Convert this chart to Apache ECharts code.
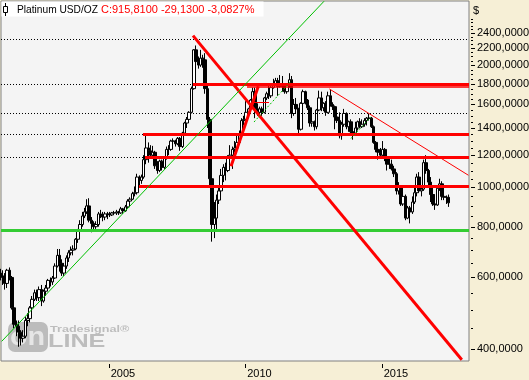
<!DOCTYPE html>
<html><head><meta charset="utf-8">
<script src="https://cdn.jsdelivr.net/npm/echarts@6/dist/echarts.min.js"></script>
<style>html,body{margin:0;padding:0;background:#f6efd6;}#c{width:529px;height:380px;}</style>
</head><body><div id="c"></div>
<script>
// ---- data (monthly OHLC, Jan 2001 .. Jun 2017) ----
const firstYear = 2001;
const opens = [
 615,605,600,580,625,600,505,460,455,440,425,430,
 470,475,505,530,550,535,560,525,555,565,590,585,
 598,640,680,650,615,640,670,690,700,705,745,785,
 810,850,870,900,830,815,800,810,860,855,845,860,
 860,855,865,865,870,865,885,875,895,925,935,965,
 970,1060,1040,1060,1170,1250,1230,1200,1220,1130,1100,1160,
 1120,1180,1240,1240,1300,1300,1280,1320,1260,1360,1440,1470,
 1530,1750,2180,2040,2000,2080,2060,1750,1470,1050,810,840,
 930,980,1070,1120,1100,1190,1200,1240,1250,1290,1340,1460,
 1470,1530,1560,1640,1720,1560,1530,1560,1530,1660,1700,1680,
 1760,1800,1830,1770,1800,1780,1720,1790,1840,1520,1600,1560,
 1390,1610,1720,1640,1570,1440,1450,1410,1550,1660,1570,1610,
 1530,1680,1600,1580,1490,1460,1340,1430,1520,1410,1450,1370,
 1360,1400,1450,1410,1430,1460,1480,1480,1410,1290,1240,1220,
 1200,1240,1190,1140,1140,1110,1080,980,1000,910,950,840,
 890,870,920,970,1060,980,990,1150,1100,1030,960,910,
 905,995,1020,950,945,945];
const highs = [
 630,625,615,630,635,605,520,470,470,445,445,480,
 490,510,540,560,560,570,575,560,575,595,600,605,
 650,705,705,665,650,680,700,715,720,750,790,830,
 870,890,935,940,845,825,825,870,880,870,870,870,
 870,870,875,880,875,895,890,905,935,945,975,1005,
 1080,1070,1075,1200,1340,1290,1270,1265,1230,1160,1170,1170,
 1190,1260,1270,1310,1320,1310,1330,1330,1370,1450,1490,1540,
 1770,2190,2235,2100,2180,2120,2140,1800,1490,1080,920,960,
 1000,1110,1140,1150,1200,1270,1260,1300,1340,1380,1480,1500,
 1630,1570,1650,1760,1760,1610,1580,1580,1670,1720,1800,1790,
 1850,1860,1860,1890,1880,1800,1800,1910,1880,1650,1660,1570,
 1620,1740,1730,1650,1590,1510,1460,1560,1730,1720,1620,1630,
 1720,1740,1620,1590,1540,1530,1450,1560,1530,1460,1470,1390,
 1450,1460,1480,1470,1480,1490,1520,1490,1420,1300,1250,1250,
 1300,1250,1200,1180,1170,1130,1090,1030,1010,1010,960,900,
 900,950,1010,1080,1090,1000,1170,1200,1110,1060,1010,960,
 1010,1050,1035,1000,955,960];
const lows = [
 590,575,560,565,590,500,450,430,405,408,415,425,
 455,465,495,525,525,525,510,520,540,560,570,575,
 595,635,620,605,605,630,655,680,680,700,730,775,
 800,840,860,820,775,785,790,800,840,825,830,835,
 845,850,855,855,855,860,860,870,890,910,930,950,
 960,1010,1020,1050,1140,1150,1180,1190,1110,1080,1090,1100,
 1110,1170,1200,1230,1280,1260,1270,1230,1250,1350,1400,1440,
 1520,1740,1900,1960,1980,1970,1700,1400,1000,735,750,780,
 910,970,1030,1040,1090,1150,1110,1220,1240,1280,1330,1420,
 1450,1480,1540,1630,1480,1500,1510,1500,1520,1640,1650,1660,
 1750,1780,1680,1760,1720,1700,1700,1760,1480,1500,1540,1360,
 1380,1600,1600,1550,1410,1410,1380,1390,1540,1540,1540,1500,
 1520,1580,1550,1390,1440,1320,1310,1410,1390,1370,1350,1310,
 1350,1380,1400,1400,1410,1420,1460,1400,1280,1220,1170,1180,
 1190,1160,1100,1110,1100,1060,960,960,900,900,830,835,
 815,860,910,950,970,950,980,1080,1010,920,900,880,
 900,980,930,930,910,895];
const closes = [
 605,600,580,625,600,505,460,455,440,425,430,470,
 475,505,530,550,535,560,525,555,565,590,585,598,
 640,680,650,615,640,670,690,700,705,745,785,810,
 850,870,900,830,815,800,810,860,855,845,860,860,
 855,865,865,870,865,885,875,895,925,935,965,970,
 1060,1040,1060,1170,1250,1230,1200,1220,1130,1100,1160,1120,
 1180,1240,1240,1300,1300,1280,1320,1260,1360,1440,1470,1530,
 1750,2180,2040,2000,2080,2060,1750,1470,1050,810,840,930,
 980,1070,1120,1100,1190,1200,1240,1250,1290,1340,1460,1470,
 1530,1560,1640,1720,1560,1530,1560,1530,1660,1700,1680,1760,
 1800,1830,1770,1800,1780,1720,1790,1840,1520,1600,1560,1390,
 1610,1720,1640,1570,1440,1450,1410,1550,1660,1570,1610,1530,
 1680,1600,1580,1490,1460,1340,1430,1520,1410,1450,1370,1360,
 1400,1450,1410,1430,1460,1480,1480,1410,1290,1240,1220,1200,
 1240,1190,1140,1140,1110,1080,980,1000,910,950,840,890,
 870,920,970,1060,980,990,1150,1100,1030,960,910,905,
 995,1020,950,945,944.94,915.81];

const yTickLabels = [400,600,800,1000,1200,1400,1600,1800,2000,2200,2400];
const yMinorTicks = [450,500,550,650,700,750,850,900,950,1050,1100,1150,1250,1300,1350,1450,1500,1550,1650,1700,1750,1850,1900,1950,2050,2100,2150,2250,2300,2350,2450,2500,2550,2600];
const xTickLabels = ['2005-01-01','2010-01-01','2015-01-01'];

// annotation levels / trend lines (date, price)
const dottedLevels = [2320, 1790, 1524, 1350, 1185];
const redLevels = [['2008-02-03',1790],['2006-04-05',1350],['2006-05-02',1185],['2006-02-11',1007]];
const redThinLevels = [['2010-01-26','2018-03-14',1767],['2010-03-29','2010-11-16',1616]];
const greenLevel = 783;
const redTrends = [[['2008-02-03',2363],['2017-12-08',376.3]],[['2009-06-26',1127],['2010-06-26',1773]]];
const redThinTrend = [['2013-01-31',1747],['2018-03-06',1071]];
const greenTrend = [['2001-01-31',417.6],['2012-11-21',2872]];
const greenDashed = [[['2010-04-29',1448],['2011-09-16',1834]],[['2013-11-17',1319],['2014-08-08',1491]]];

// ---- build ----
const t = s => { const p = s.split('-').map(Number); return Date.UTC(p[0], p[1]-1, p[2]); };
const xMin = t('2001-01-22'), xMax = t('2018-03-14');
const yMin = 373.6, yMax = 2876;
const candles = closes.map((c,i) => [Date.UTC(firstYear + Math.floor(i/12), i%12, 15), opens[i], c, lows[i], highs[i]]);
const fmt = v => v.toFixed(4).replace('.', ',');
const last = closes[closes.length-1], prev = closes[closes.length-2];
const header = 'C:' + fmt(last) + ' ' + fmt(last-prev) + ' ' + fmt((last-prev)/prev*100) + '%';

const RED = '#ff0000';
const seg = (a, b, ls) => [{coord:[t(a[0]), a[1]], lineStyle: ls}, {coord:[t(b[0]), b[1]]}];
const mlData = [];
dottedLevels.forEach(v => mlData.push({yAxis: v, lineStyle:{color:'#000', width:1, type:[1,2]}}));
mlData.push({yAxis: greenLevel, lineStyle:{color:'#33cc33', width:3, type:'solid'}});
redLevels.forEach(r => mlData.push(seg([r[0], r[1]], ['2018-03-14', r[1]], {color:RED, width:3, type:'solid'})));
redThinLevels.forEach(r => mlData.push(seg([r[0], r[2]], [r[1], r[2]], {color:RED, width: r[2] > 1700 ? 1.5 : 1, type:'solid'})));
redTrends.forEach(s => mlData.push(seg(s[0], s[1], {color:RED, width:3, type:'solid'})));
mlData.push(seg(redThinTrend[0], redThinTrend[1], {color:RED, width:1, type:'solid'}));
mlData.push(seg(greenTrend[0], greenTrend[1], {color:'#00c000', width:1, type:'solid'}));
greenDashed.forEach(s => mlData.push(seg(s[0], s[1], {color:'#00c000', width:1, type:[2,2]})));

const FONT = '11px "Liberation Sans", Arial, sans-serif';
const chart = echarts.init(document.getElementById('c'), null, {width:529, height:380});
chart.setOption({
  animation: false,
  backgroundColor: '#f6efd6',
  grid: {left:1, top:1, width:468, height:360, show:true, backgroundColor:'#f4f4f4', borderColor:'#808080', borderWidth:1},
  xAxis: {type:'time', min:xMin, max:xMax, axisLine:{show:false}, axisTick:{show:false}, axisLabel:{show:false}, splitLine:{show:false}},
  yAxis: {type:'log', logBase:10, min:yMin, max:yMax, position:'right', axisLine:{show:false}, axisTick:{show:false}, axisLabel:{show:false}, splitLine:{show:false}},
  graphic: [
    {type:'rect', z:1, shape:{x:8, y:322, width:40, height:30, r:7}, style:{fill:'#bcbcbc'}},
    {type:'text', z:1, x:10, y:338, scaleX:1.15, style:{text:'on', font:'bold 25px "Liberation Sans"', fill:'#e6e6e6', verticalAlign:'middle'}},
    {type:'text', z:1, x:50, y:330, scaleX:1.4, style:{text:'Tradesignal®', font:'bold 9px "Liberation Sans"', fill:'#bdbdbd', verticalAlign:'middle'}},
    {type:'text', z:1, x:48, y:342, scaleX:1.4, style:{text:'LINE', font:'bold 18px "Liberation Sans"', fill:'#bdbdbd', verticalAlign:'middle'}},
    {type:'rect', z:20, shape:{x:1.5, y:1.5, width:262, height:15}, style:{fill:'#ffffff'}},
    {type:'line', z:21, shape:{x1:5.5, y1:3, x2:5.5, y2:16}, style:{stroke:'#000', lineWidth:1}},
    {type:'rect', z:22, shape:{x:3.5, y:6.5, width:4, height:6}, style:{fill:'#ffffff', stroke:'#000', lineWidth:1}},
    {type:'text', z:22, x:17, y:10, style:{text:'Platinum USD/OZ', font:'10.2px "Liberation Sans", Arial', fill:'#000', verticalAlign:'middle'}},
    {type:'text', z:22, x:101, y:10, style:{text: header, font:'11px "Liberation Sans", Arial', fill:'#ff0000', verticalAlign:'middle'}},
    {type:'text', z:22, x:473, y:11, style:{text:'$', font:FONT, fill:'#000', verticalAlign:'middle'}}
  ],
  series: [
    {
      type:'candlestick', data: candles, encode:{x:0, y:[1,2,3,4]}, barWidth:3, clip:true,
      itemStyle:{color:'#ffffff', color0:'#000000', borderColor:'#000000', borderColor0:'#000000', borderWidth:1},
      markLine:{silent:true, symbol:['none','none'], label:{show:false}, animation:false, data: mlData}
    },
    {
      type:'custom', clip:false, silent:true, encode:{x:0, y:1},
      data: yTickLabels.map(v => [xMax, v]),
      renderItem: (p, api) => { const v = api.value(1); const c = api.coord([xMax, v]);
        return {type:'group', children:[
          {type:'line', shape:{x1:c[0]+2, y1:Math.round(c[1])+0.5, x2:c[0]+6, y2:Math.round(c[1])+0.5}, style:{stroke:'#000', lineWidth:1}},
          {type:'text', x:c[0]+8, y:c[1], style:{text:fmt(v), font:FONT, fill:'#000', verticalAlign:'middle'}}]}; }
    },
    {
      type:'custom', clip:false, silent:true, encode:{x:0, y:1},
      data: yMinorTicks.map(v => [xMax, v]),
      renderItem: (p, api) => { const c = api.coord([xMax, api.value(1)]);
        return {type:'line', shape:{x1:c[0]+2, y1:Math.round(c[1])+0.5, x2:c[0]+4, y2:Math.round(c[1])+0.5}, style:{stroke:'#000', lineWidth:1}}; }
    },
    {
      type:'custom', clip:false, silent:true, encode:{x:0, y:1},
      data: xTickLabels.map(s => [t(s), yMin]),
      renderItem: (p, api) => { const c = api.coord([api.value(0), yMin]); const x = Math.round(c[0])+0.5;
        return {type:'group', children:[
          {type:'line', shape:{x1:x, y1:c[1]+3, x2:x, y2:c[1]+7}, style:{stroke:'#000', lineWidth:1}},
          {type:'text', x:c[0]+2, y:c[1]+7, style:{text:String(new Date(api.value(0)).getUTCFullYear()), font:FONT, fill:'#000', verticalAlign:'top'}}]}; }
    }
  ]
});
</script></body></html>
